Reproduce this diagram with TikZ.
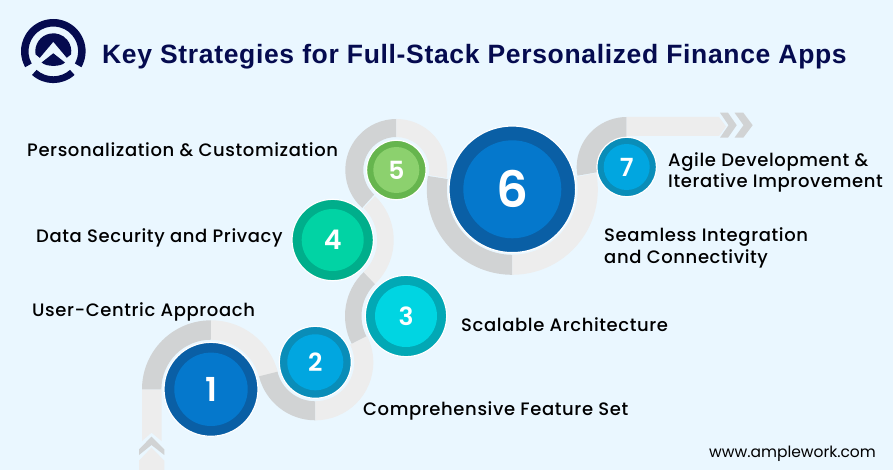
\documentclass[tikz,border=0pt]{standalone}
\usepackage{fontspec}
\setmainfont{Poppins}
\newfontfamily\labf{Poppins}[UprightFont=* Medium, LetterSpace=3.4]
\newfontfamily\numf{Poppins}[UprightFont=* SemiBold]
\newfontfamily\titlef{Liberation Sans}[BoldFont=*, UprightFont=* Bold, LetterSpace=2.5]
\definecolor{bgc}{HTML}{EAF7FF}
\definecolor{lightband}{HTML}{EDEDED}
\definecolor{grayband}{HTML}{D1D3D4}
\definecolor{navy}{HTML}{050B4F}
\definecolor{bluea}{HTML}{0A5FA5}\definecolor{blueb}{HTML}{0578CC}
\definecolor{skya}{HTML}{0A8DB8}\definecolor{skyb}{HTML}{01A6E0}
\definecolor{teala}{HTML}{02A8B5}\definecolor{tealb}{HTML}{00D5E2}
\definecolor{greena}{HTML}{00AE8B}\definecolor{greenb}{HTML}{01D3A4}
\definecolor{lima}{HTML}{66B54E}\definecolor{limb}{HTML}{8CD16E}
\newcommand\band[7]{\fill[#7,shift={(#1,#2)}] (#5:#4) arc[start angle=#5,end angle=#6,radius=#4 pt] -- (#6:#3) arc[start angle=#6,end angle=#5,radius=#3 pt] -- cycle;}
\tikzset{
 outerdisc/.style={circle,inner sep=0pt,draw=white,line width=1.2pt},
 innerdisc/.style={circle,inner sep=0pt,text=white},
 lab/.style={anchor=base west,inner sep=0pt,text=black,font=\labf\fontsize{18}{20}\selectfont},
}
\newcommand\disc[9]{%
 \node[outerdisc,fill=#7,minimum size=#3 pt] (o#1) at (#4,#5) {};
 \node[innerdisc,fill=#8,minimum size=#6 pt,font=\numf\fontsize{#9}{#9}\selectfont] (i#1) at (o#1) {#2};}
\begin{document}
\begin{tikzpicture}[x=1pt,y=1pt]
\useasboundingbox (0,-470) rectangle (893,0);
\fill[bgc] (0,-470) rectangle (893,0);
% logo
\fill[navy,even odd rule,shift={(53.3,-51.3)}] (-29.5:32.3) arc[start angle=-29.5,end angle=209.5,radius=32.3pt] -- (209.5:24.8) arc[start angle=209.5,end angle=-29.5,radius=24.8pt] -- cycle;
\fill[navy,shift={(53.3,-51.3)}] (228:31.8) arc[start angle=228,end angle=312,radius=31.8pt] -- (312:25) arc[start angle=312,end angle=228,radius=25pt] -- cycle;
\fill[navy,shift={(53.3,-51.3)}] (190:18) arc[start angle=190,end angle=-10,radius=18pt] -- (13.5,-6.5) -- (0,9.5) -- (-13.5,-6.5) -- cycle;
\fill[navy] (53.3,-53.3) -- (65,-62.5) .. controls (61,-67) and (46,-67) .. (41.6,-62.5) -- cycle;
% title
\node[anchor=base west,inner sep=0pt,text=navy,font=\titlef\fontsize{26.5}{30}\selectfont] (title) at (102,-64) {Key Strategies for Full-Stack Personalized Finance Apps};
% ribbon
\fill[lightband] (142,-389.3) -- (161.5,-389.3) -- (161.5,-441) -- (151.5,-432.7) -- (142,-441) -- cycle;
\fill[grayband] (151.5,-436.7) -- (164.3,-449.3) -- (164.3,-455) -- (151.5,-445) -- (139,-455) -- (139,-449.3) -- cycle;
\fill[lightband] (151.5,-447.5) -- (164.3,-460.7) -- (164.3,-470) -- (139,-470) -- (139,-460.7) -- cycle;
\band{211}{-389.3}{49.6}{69}{180}{90}{grayband}
\band{211}{-389.3}{49.6}{69}{90}{14}{lightband}
\band{315.3}{-362.3}{39}{58}{194}{270}{grayband}
\band{315.3}{-362.3}{39}{58}{270}{387}{lightband}
\band{406}{-316}{44.5}{61}{207}{134}{grayband}
\band{332.7}{-240}{44.5}{61}{-46}{46}{lightband}
\band{396.3}{-170}{33}{51}{228}{90}{grayband}
\band{396.3}{-170}{33}{51}{90}{-9}{lightband}
\band{512.3}{-189.3}{65.5}{85.5}{171}{270}{grayband}
\band{512.3}{-189.3}{65.5}{85.5}{270}{371}{lightband}
\band{626.7}{-167}{30}{50}{190}{90}{grayband}
\fill[lightband] (626.7,-117) -- (719,-117) -- (726,-126.5) -- (719,-136) -- (626.7,-136) -- cycle;
\fill[grayband] (720,-112.7) -- (728,-112.7) -- (736.7,-125.2) -- (728,-137.7) -- (720,-137.7) -- (728.5,-125.2) -- cycle;
\fill[grayband] (734.5,-112.7) -- (743.3,-112.7) -- (752.7,-125.2) -- (743.3,-137.7) -- (734.5,-137.7) -- (743.5,-125.2) -- cycle;
% discs
\disc{1}{1}{94}{211}{-389.3}{73.4}{bluea}{blueb}{33}
\disc{2}{2}{72}{315.3}{-362.3}{56}{skya}{skyb}{25}
\disc{3}{3}{81.4}{406}{-316}{62}{teala}{tealb}{25}
\disc{4}{4}{81.4}{332.7}{-240}{62}{greena}{greenb}{27}
\disc{5}{5}{59.4}{396.3}{-170}{46}{lima}{limb}{25}
\disc{6}{6}{126.6}{512.3}{-189.3}{98}{bluea}{blueb}{50}
\disc{7}{7}{59.4}{626.7}{-167}{46}{skya}{skyb}{25}
% labels
\node[lab] (l5) at (27,-157) {Personalization \& Customization};
\node[lab] (l4) at (36,-242) {Data Security and Privacy};
\node[lab] (l1) at (32,-316) {User-Centric Approach};
\node[lab] (l3) at (461,-331) {Scalable Architecture};
\node[lab] (l2) at (363,-415) {Comprehensive Feature Set};
\node[lab] (l6a) at (604,-241) {Seamless Integration};
\node[lab] (l6b) at (604,-263) {and Connectivity};
\node[lab] (l7a) at (668,-167) {Agile Development \&};
\node[lab] (l7b) at (668,-188) {Iterative Improvement};
\node[anchor=base west,inner sep=0pt,text=black,font=\fontsize{15.5}{18}\selectfont] (web) at (709,-457) {www.amplework.com};
\end{tikzpicture}
\end{document}
